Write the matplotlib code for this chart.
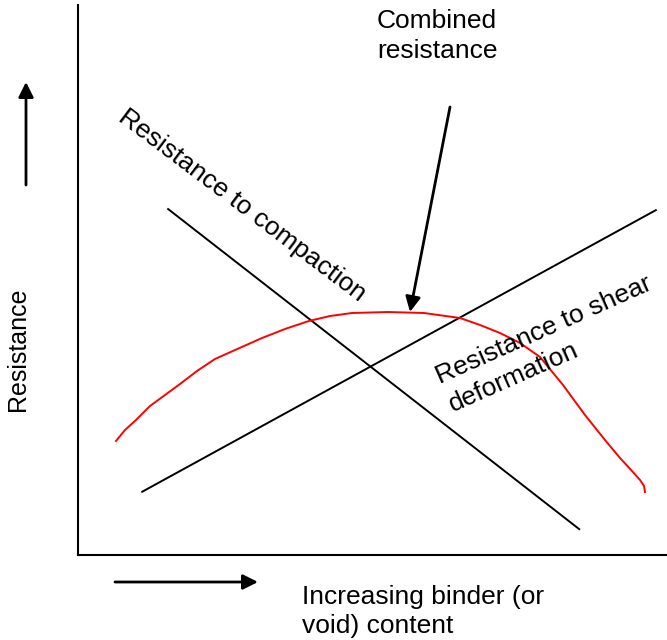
import numpy as np
import matplotlib
matplotlib.use("Agg")
import matplotlib.pyplot as plt

plt.rcParams['font.family'] = ['Liberation Sans', 'DejaVu Sans']

# Schematic data (axis units 0-100)
compaction_x = [15.3, 85.1]
compaction_y = [62.9, 4.7]
shear_x = [10.9, 98.1]
shear_y = [11.5, 62.7]
combined_x = [6.45, 7.98, 9.85, 12.22, 14.77, 17.32, 20.20, 23.26, 26.66, 31.24,
              35.14, 39.22, 42.78, 46.52, 52.63, 58.74, 64.86, 68.25, 71.65,
              75.04, 78.44, 82.34, 86.08, 89.47, 92.02, 94.06, 95.42, 96.10, 96.26]
combined_y = [20.73, 22.73, 24.55, 27.09, 29.09, 31.09, 33.45, 35.64, 37.27, 39.45,
              41.09, 42.55, 43.45, 44.00, 44.18, 44.00, 43.09, 41.82, 40.36,
              38.55, 36.00, 30.91, 25.45, 20.91, 17.64, 15.27, 13.64, 12.55, 11.45]

W, H = 667, 640
fig = plt.figure(figsize=(W / 100, H / 100), dpi=100)
ax = fig.add_axes([78 / W, (H - 555) / H, (W - 78) / W, 550 / H])

ax.plot(compaction_x, compaction_y, color='black', lw=1.4)
ax.plot(shear_x, shear_y, color='black', lw=1.4)
ax.plot(combined_x, combined_y, color='red', lw=1.4, solid_joinstyle='round')

ax.set_xlim(0, 100)
ax.set_ylim(0, 100)
ax.set_xticks([])
ax.set_yticks([])
for s in ['top', 'right']:
    ax.spines[s].set_visible(False)
for s in ['left', 'bottom']:
    ax.spines[s].set_linewidth(1.5)

def fp(x, y):
    # figure pixels, measured from top-left
    return (x, H - y)

arrow_kw = dict(arrowstyle='-|>,head_length=0.9,head_width=0.45', color='black',
                lw=2, shrinkA=0, shrinkB=0)

# axis direction arrows
ax.annotate('', xy=fp(26, 82), xytext=fp(26, 185), xycoords='figure pixels',
            textcoords='figure pixels', arrowprops=arrow_kw, annotation_clip=False)
ax.annotate('', xy=fp(258, 582), xytext=fp(115, 582), xycoords='figure pixels',
            textcoords='figure pixels', arrowprops=arrow_kw, annotation_clip=False)
# combined resistance pointer
ax.annotate('', xy=fp(410, 312), xytext=fp(450, 107), xycoords='figure pixels',
            textcoords='figure pixels', arrowprops=arrow_kw, annotation_clip=False)

fs = 19
# multi-line texts are anchored on the baseline of their last line
ax.annotate('Combined\nresistance', xy=fp(377, 58), xycoords='figure pixels',
            ha='left', va='baseline', fontsize=fs, linespacing=1.3,
            annotation_clip=False)
ax.annotate('Resistance to compaction', xy=fp(117, 120), xycoords='figure pixels',
            ha='left', va='baseline', rotation=-37, rotation_mode='anchor',
            fontsize=fs, annotation_clip=False)
ax.annotate('Resistance to shear\ndeformation', xy=fp(450, 406),
            xycoords='figure pixels', ha='left', va='baseline', rotation=24,
            rotation_mode='anchor', fontsize=fs, linespacing=1.35,
            annotation_clip=False)
ax.annotate('Increasing binder (or\nvoid) content', xy=fp(302, 633),
            xycoords='figure pixels', ha='left', va='baseline', fontsize=fs,
            linespacing=1.27, annotation_clip=False)
ax.annotate('Resistance', xy=fp(25, 349), xycoords='figure pixels',
            ha='center', va='baseline', rotation=90, rotation_mode='anchor',
            fontsize=18, annotation_clip=False)

fig.savefig('out.png', dpi=100)
